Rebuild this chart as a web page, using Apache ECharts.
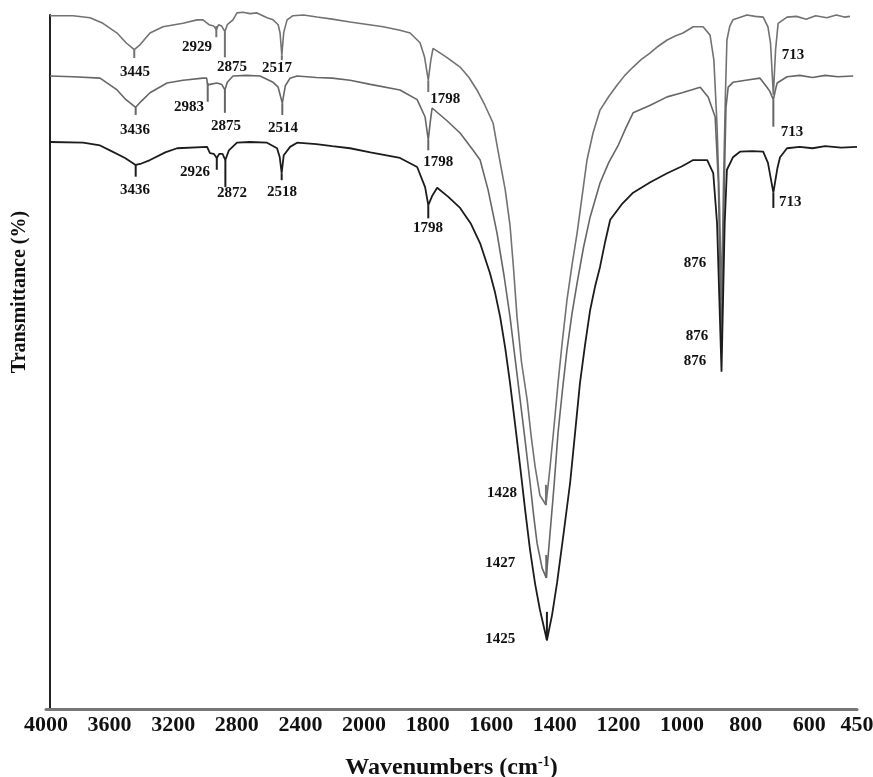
<!DOCTYPE html>
<html><head><meta charset="utf-8">
<script src="https://cdn.jsdelivr.net/npm/echarts@6/dist/echarts.min.js"></script>
<style>html,body{margin:0;padding:0;background:#fff}#c{width:873px;height:777px}</style>
</head><body><div id="c"></div><script>
// Tick labels of the (two-scale) wavenumber axis
const xTickLabels = [4000,3600,3200,2800,2400,2000,1800,1600,1400,1200,1000,800,600,450];
const seriesNames = ['Sample A','Sample B','Sample C'];

// [wavenumber (cm-1), transmittance (%)]
const curveA = [[3975,99.9],[3830,99.9],[3723,99.6],[3642,98.8],[3553,97.4],[3497,96.0],[3445,95.0],[3409,95.7],[3346,97.4],[3264,98.3],[3138,98.8],[3050,99.3],[3013,99.3],[2975,98.6],[2945,98.4],[2929,97.9],[2915,98.6],[2895,98.4],[2875,97.6],[2860,98.6],[2824,99.3],[2799,100.3],[2761,100.4],[2717,100.2],[2673,100.3],[2610,99.6],[2572,99.3],[2540,98.6],[2528,97.4],[2517,94.2],[2505,97.5],[2484,99.3],[2447,99.9],[2380,100.0],[2296,99.7],[2200,99.4],[2088,99.0],[1940,98.3],[1887,97.8],[1855,97.4],[1824,96.0],[1810,94.0],[1798,90.6],[1790,93.5],[1783,95.2],[1740,93.9],[1698,92.5],[1670,91.0],[1645,89.2],[1620,87.0],[1594,84.4],[1579,80.5],[1556,74.8],[1541,69.7],[1530,63.5],[1519,56.5],[1505,50.0],[1487,44.5],[1475,39.5],[1462,34.9],[1447,30.8],[1428,29.4],[1415,34.9],[1402,41.0],[1390,47.0],[1376,53.2],[1362,58.9],[1346,64.0],[1330,68.6],[1314,74.0],[1299,79.1],[1280,83.0],[1258,86.3],[1230,88.3],[1204,89.9],[1180,91.3],[1154,92.5],[1128,93.6],[1101,94.5],[1075,95.5],[1047,96.4],[1020,97.0],[997,97.4],[965,98.3],[934,98.3],[912,97.1],[900,93.5],[890,84],[882,72],[876,58.9],[870,75],[864,88],[859,96.4],[850,98.4],[840,99.3],[796,100.0],[770,99.8],[745,99.7],[730,98.3],[722,96],[713,88.5],[706,95],[698,98.8],[670,99.7],[640,99.8],[610,99.4],[580,99.9],[545,99.6],[515,100.0],[490,99.7],[472,99.8]];
const curveB = [[3975,91.2],[3830,91.1],[3660,90.9],[3553,89.2],[3497,87.8],[3436,86.7],[3400,87.6],[3346,88.8],[3239,90.2],[3138,90.6],[3013,90.9],[2990,90.9],[2983,89.9],[2969,90.0],[2925,90.2],[2895,90.0],[2875,89.2],[2860,90.3],[2824,91.2],[2740,91.3],[2654,91.2],[2572,90.3],[2540,89.6],[2514,87.3],[2495,89.8],[2465,90.9],[2421,91.2],[2300,91.0],[2200,90.9],[2088,90.6],[1980,90.0],[1887,89.2],[1833,87.8],[1808,85.3],[1798,82.0],[1792,84.5],[1786,86.6],[1740,84.8],[1698,83.0],[1657,80.5],[1635,79.1],[1610,74.8],[1582,68.6],[1560,62.5],[1541,56.5],[1525,50.5],[1509,44.5],[1493,38.5],[1478,32.6],[1467,28.0],[1456,23.9],[1440,20.3],[1427,18.9],[1415,25.4],[1402,32.5],[1390,39.8],[1376,46.0],[1362,51.7],[1346,57.0],[1330,61.4],[1310,66.5],[1289,70.9],[1258,75.8],[1230,78.8],[1200,81.3],[1176,83.8],[1154,85.9],[1100,87.0],[1047,88.2],[1000,88.8],[943,89.6],[918,88.2],[896,85.3],[886,76],[876,51.7],[868,74],[862,86.7],[855,89.6],[840,90.3],[800,90.6],[755,90.9],[733,89.6],[724,89.0],[713,87.8],[705,89.5],[701,90.2],[670,91.1],[630,91.3],[590,91.0],[550,91.3],[510,91.1],[462,91.2]];
const curveC = [[3975,81.7],[3767,81.6],[3660,81.2],[3598,80.5],[3503,79.4],[3436,78.4],[3400,78.6],[3346,79.1],[3250,80.2],[3176,80.8],[2987,81.0],[2969,80.1],[2945,80.0],[2926,79.4],[2910,80.0],[2890,80.0],[2872,79.1],[2850,80.5],[2799,81.6],[2717,81.7],[2610,81.6],[2547,80.8],[2530,79.5],[2518,77.2],[2505,79.8],[2465,81.0],[2421,81.6],[2300,81.4],[2200,81.1],[2088,80.8],[1980,80.2],[1887,79.4],[1833,78.1],[1808,75.2],[1798,72.6],[1785,74.0],[1770,75.1],[1735,73.8],[1698,72.2],[1665,70.0],[1635,67.1],[1604,62.8],[1588,60.0],[1572,56.5],[1556,52.0],[1541,47.0],[1525,41.0],[1509,34.9],[1493,28.5],[1478,22.9],[1462,18.0],[1447,14.3],[1425,9.9],[1409,13.5],[1393,18.2],[1372,25.5],[1352,32.6],[1336,40.0],[1321,47.0],[1305,52.5],[1289,57.5],[1273,61.0],[1258,63.7],[1242,67.3],[1226,70.5],[1190,72.7],[1154,74.4],[1100,75.9],[1047,77.2],[1000,78.2],[965,79.1],[921,79.1],[902,77.2],[890,70],[876,48.6],[866,70],[859,77.7],[840,79.5],[818,80.3],[780,80.4],[745,80.3],[730,78.7],[713,74.4],[700,78],[692,79.5],[670,80.8],[630,81.0],[590,80.8],[550,81.1],[500,80.9],[450,81.0]];

// Peak annotations: [peak wavenumber, marker from T, marker to T, label wavenumber, label T]
const peaksA = [[3445,95.0,93.8,3440,91.8],[2929,98.4,96.8,3050,95.4],[2875,97.6,93.9,2830,92.5],[2517,94.2,93.5,2547,92.4],[1798,90.6,88.9,1745,87.9],[876,null,null,959,64.3],[713,null,null,651,94.2],[1428,29.4,32.3,1566,31.1]];
const peaksB = [[3436,86.7,85.6,3440,83.4],[2983,90.2,87.5,3101,86.7],[2875,89.2,85.9,2868,84.0],[2514,87.3,85.6,2510,83.7],[1798,82.0,80.5,1767,78.8],[876,null,null,953,53.7],[713,87.8,83.9,654,83.1],[1427,18.9,22.2,1572,21.0]];
const peaksC = [[3436,78.4,76.7,3440,74.8],[2926,79.5,77.7,3063,77.4],[2872,79.1,75.2,2830,74.4],[2518,77.2,76.2,2516,74.5],[1798,72.6,70.7,1799,69.3],[876,null,null,959,50.1],[713,74.4,72.2,660,73.1],[1425,9.9,14.0,1572,10.1]];

// two-scale axis: 4000-2000 compressed by 2
function toX(w){ return w >= 2000 ? (4000 - w) / 2 : 1000 + (2000 - w); }
function fromX(v){ return v <= 1000 ? 4000 - 2 * v : 2000 - (v - 1000); }

const colors = ['#727272','#666666','#1c1c1c'];
const FONT = '"Liberation Serif","Times New Roman",serif';

function lineSeries(name, data, color, width){
  return {name, type:'line', data: data.map(d => [toX(d[0]), d[1]]), showSymbol:false, clip:false,
    lineStyle:{color, width}, itemStyle:{color}, animation:false, z:3};
}
function peakSeries(peaks, color){
  return {type:'custom', clip:false, animation:false, z:4,
    data: peaks.map(p => [toX(p[0]), p[1], p[2], toX(p[3]), p[4]]),
    renderItem(params, api){
      const p = peaks[params.dataIndex];
      const ch = [];
      if (p[1] !== null){
        const a = api.coord([toX(p[0]), p[1]]), b = api.coord([toX(p[0]), p[2]]);
        ch.push({type:'line', shape:{x1:a[0],y1:a[1],x2:b[0],y2:b[1]}, style:{stroke:color, lineWidth:2}});
      }
      const l = api.coord([toX(p[3]), p[4]]);
      ch.push({type:'text', x:l[0], y:l[1], style:{text:String(p[0]), font:'bold 15px ' + FONT, fill:'#111', align:'center', verticalAlign:'middle'}});
      return {type:'group', children: ch};
    }};
}

const chart = echarts.init(document.getElementById('c'), null, {renderer:'canvas'});
chart.setOption({
  backgroundColor:'#fff',
  animation:false,
  grid:{left:46, right:16, top:15, bottom:68, containLabel:false, outerBoundsMode:'none'},
  xAxis:{type:'value', min:0, max:toX(450), interval:200,
    axisLine:{show:true, lineStyle:{color:'#777', width:3}},
    axisTick:{show:false}, splitLine:{show:false},
    axisLabel:{margin:5, color:'#111', fontFamily:FONT, fontWeight:'bold', fontSize:22,
      formatter: v => { const w = Math.round(fromX(v)); return xTickLabels.includes(w) ? String(w) : ''; }},
    name:'Wavenumbers (cm{sup|-1})', nameLocation:'middle', nameGap:46,
    nameTextStyle:{color:'#111', fontFamily:FONT, fontWeight:'bold', fontSize:24,
      rich:{sup:{fontSize:14, fontWeight:'bold', fontFamily:FONT, color:'#111', verticalAlign:'top', padding:[0,0,12,0]}}}
  },
  yAxis:{type:'value', min:0, max:100, offset:-4,
    axisLine:{show:true, lineStyle:{color:'#222', width:2}},
    axisTick:{show:false}, axisLabel:{show:false}, splitLine:{show:false}},
  graphic:[{type:'text', x:20, y:292, rotation:Math.PI/2,
    style:{text:'Transmittance (%)', font:'bold 20px ' + FONT, fill:'#111', align:'center', verticalAlign:'middle'}}],
  series:[
    lineSeries(seriesNames[0], curveA, colors[0], 1.6),
    lineSeries(seriesNames[1], curveB, colors[1], 1.6),
    lineSeries(seriesNames[2], curveC, colors[2], 1.8),
    peakSeries(peaksA, colors[0]),
    peakSeries(peaksB, colors[1]),
    peakSeries(peaksC, colors[2])
  ]
});
</script></body></html>
